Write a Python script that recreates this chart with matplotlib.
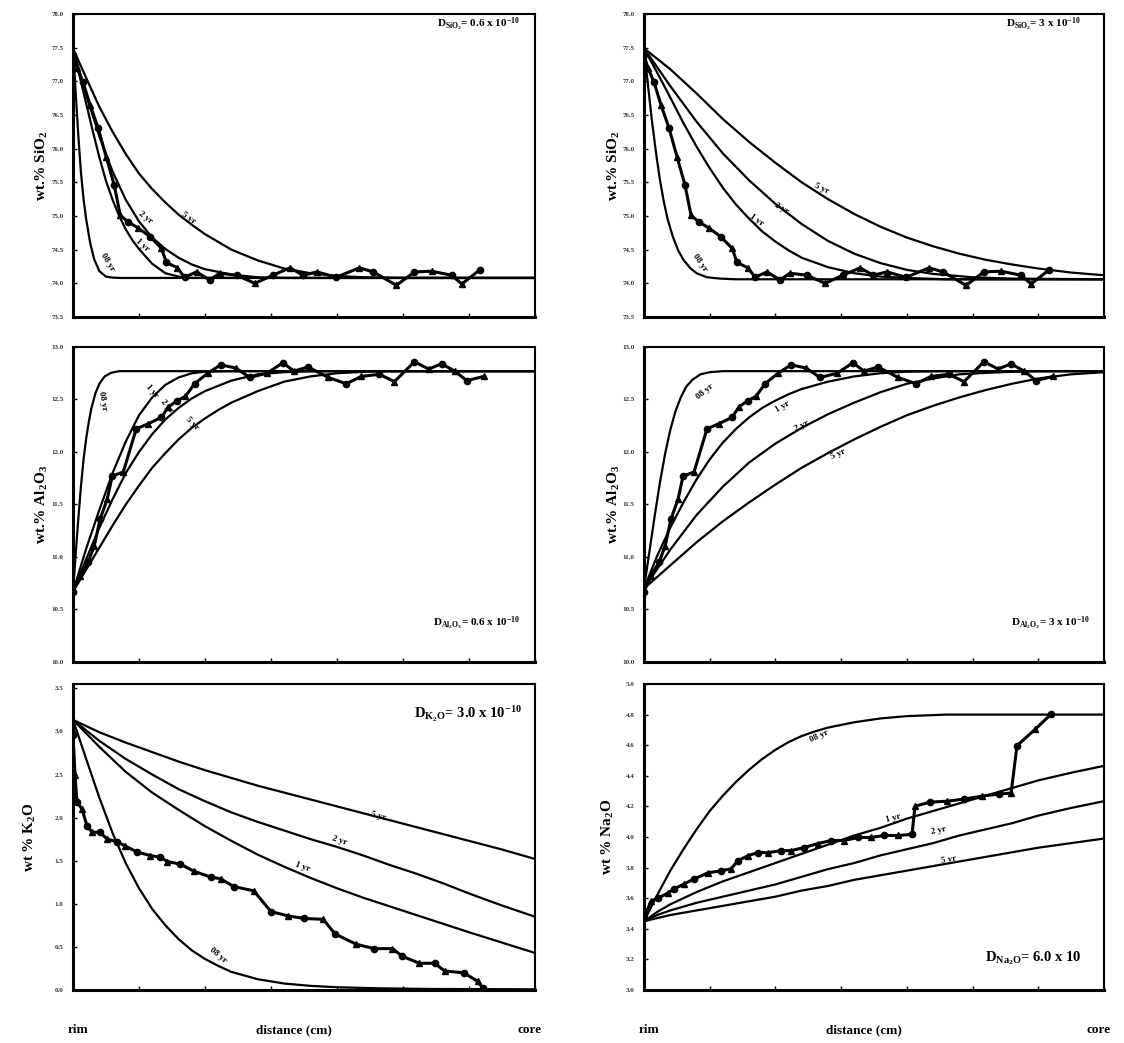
import numpy as np
import matplotlib.pyplot as plt

plt.rcParams["font.family"] = ["Liberation Serif", "DejaVu Serif"]
plt.rcParams["font.weight"] = "bold"
plt.rcParams["mathtext.fontset"] = "custom"
plt.rcParams["mathtext.rm"] = "Liberation Serif:bold"
plt.rcParams["mathtext.it"] = "Liberation Serif:bold"
plt.rcParams["mathtext.bf"] = "Liberation Serif:bold"

years = ["08 yr", "1 yr", "2 yr", "5 yr"]

# ---- SiO2, measured traverse (shared by both top panels)
sio2_x = [0.0, 0.003, 0.0076, 0.0129, 0.019, 0.0251, 0.0312, 0.0358, 0.0419,
          0.0495, 0.0586, 0.067, 0.0708, 0.0791, 0.0845, 0.0936, 0.1035,
          0.1111, 0.124, 0.1377, 0.1514, 0.1644, 0.1743, 0.1849, 0.1994,
          0.2169, 0.2275, 0.245, 0.2587, 0.2717, 0.2869, 0.2945, 0.3082]
sio2_y = [77.39, 77.20, 76.99, 76.65, 76.31, 75.88, 75.46, 75.01, 74.91,
          74.82, 74.69, 74.52, 74.31, 74.23, 74.09, 74.17, 74.05, 74.15,
          74.12, 74.00, 74.12, 74.23, 74.12, 74.17, 74.09, 74.23, 74.17,
          73.97, 74.17, 74.18, 74.12, 73.99, 74.20]

# SiO2 model profiles, D = 0.6  (0.8, 1, 2, 5 yr)
sio2_a_x = [
    [0, 0.002, 0.004, 0.006, 0.008, 0.010, 0.013, 0.016, 0.020, 0.025, 0.030,
     0.036, 0.35],
    [0, 0.005, 0.010, 0.015, 0.020, 0.025, 0.030, 0.035, 0.040, 0.045, 0.050,
     0.060, 0.070, 0.080, 0.090, 0.35],
    [0, 0.01, 0.02, 0.03, 0.04, 0.05, 0.06, 0.07, 0.08, 0.09, 0.10, 0.12,
     0.14, 0.16, 0.35],
    [0, 0.01, 0.02, 0.03, 0.04, 0.05, 0.06, 0.07, 0.08, 0.09, 0.10, 0.12,
     0.14, 0.16, 0.18, 0.20, 0.22, 0.25, 0.35],
]
sio2_a_y = [
    [77.49, 76.85, 76.20, 75.65, 75.25, 74.95, 74.60, 74.36, 74.18, 74.10,
     74.085, 74.08, 74.08],
    [77.49, 77.08, 76.67, 76.26, 75.87, 75.52, 75.24, 75.00, 74.80, 74.64,
     74.51, 74.29, 74.15, 74.10, 74.08, 74.08],
    [77.49, 76.80, 76.18, 75.66, 75.24, 74.92, 74.68, 74.51, 74.38, 74.28,
     74.21, 74.13, 74.09, 74.08, 74.08],
    [77.49, 77.05, 76.62, 76.25, 75.92, 75.63, 75.40, 75.20, 75.02, 74.87,
     74.73, 74.50, 74.34, 74.22, 74.15, 74.11, 74.09, 74.08, 74.08],
]

# SiO2 model profiles, D = 3
sio2_b_x = [
    [0, 0.003, 0.006, 0.009, 0.012, 0.015, 0.018, 0.022, 0.026, 0.030, 0.035,
     0.040, 0.048, 0.058, 0.07, 0.35],
    [0, 0.01, 0.02, 0.03, 0.04, 0.05, 0.06, 0.07, 0.08, 0.09, 0.10, 0.11,
     0.12, 0.14, 0.16, 0.18, 0.20, 0.23, 0.35],
    [0, 0.02, 0.04, 0.06, 0.08, 0.10, 0.12, 0.14, 0.16, 0.18, 0.20, 0.22,
     0.25, 0.28, 0.35],
    [0, 0.02, 0.04, 0.06, 0.08, 0.10, 0.12, 0.14, 0.16, 0.18, 0.20, 0.22,
     0.24, 0.26, 0.28, 0.30, 0.325, 0.35],
]
sio2_b_y = [
    [77.49, 76.95, 76.42, 75.96, 75.55, 75.22, 74.95, 74.69, 74.49, 74.35,
     74.23, 74.15, 74.09, 74.07, 74.06, 74.06],
    [77.49, 77.13, 76.76, 76.38, 76.03, 75.71, 75.42, 75.17, 74.96, 74.77,
     74.62, 74.49, 74.38, 74.24, 74.15, 74.10, 74.08, 74.06, 74.06],
    [77.49, 76.93, 76.40, 75.93, 75.53, 75.18, 74.88, 74.63, 74.44, 74.30,
     74.20, 74.14, 74.09, 74.07, 74.06],
    [77.49, 77.18, 76.82, 76.44, 76.10, 75.79, 75.50, 75.25, 75.03, 74.84,
     74.68, 74.55, 74.44, 74.35, 74.28, 74.22, 74.16, 74.12],
]

# ---- Al2O3, measured traverse
al_x = [0.0, 0.0053, 0.0114, 0.016, 0.0205, 0.0259, 0.0297, 0.0381, 0.0479,
        0.0571, 0.067, 0.0723, 0.0791, 0.0852, 0.0921, 0.102, 0.1119, 0.1233,
        0.1339, 0.1469, 0.159, 0.1674, 0.1781, 0.1933, 0.207, 0.2184, 0.2321,
        0.2435, 0.2587, 0.2694, 0.2793, 0.2892, 0.2983, 0.3112]
al_y = [10.67, 10.82, 10.95, 11.10, 11.36, 11.55, 11.77, 11.81, 12.22, 12.27,
        12.33, 12.43, 12.49, 12.53, 12.65, 12.75, 12.83, 12.80, 12.71, 12.75,
        12.85, 12.77, 12.81, 12.71, 12.65, 12.72, 12.74, 12.67, 12.86, 12.79,
        12.84, 12.77, 12.68, 12.72]

# Al2O3 model profiles, D = 0.6
al_a_x = [
    [0, 0.002, 0.004, 0.006, 0.008, 0.010, 0.012, 0.014, 0.017, 0.020, 0.024,
     0.029, 0.035, 0.35],
    [0, 0.01, 0.02, 0.03, 0.04, 0.05, 0.06, 0.07, 0.08, 0.09, 0.10, 0.12, 0.35],
    [0, 0.01, 0.02, 0.03, 0.04, 0.05, 0.06, 0.07, 0.08, 0.09, 0.10, 0.12,
     0.14, 0.16, 0.18, 0.35],
    [0, 0.01, 0.02, 0.03, 0.04, 0.05, 0.06, 0.07, 0.08, 0.09, 0.10, 0.11,
     0.12, 0.14, 0.16, 0.18, 0.20, 0.23, 0.35],
]
al_a_y = [
    [10.67, 11.02, 11.36, 11.67, 11.93, 12.13, 12.29, 12.42, 12.56, 12.65,
     12.72, 12.755, 12.77, 12.77],
    [10.67, 11.08, 11.45, 11.80, 12.10, 12.35, 12.52, 12.64, 12.71, 12.75,
     12.765, 12.77, 12.77],
    [10.67, 10.98, 11.28, 11.55, 11.80, 12.00, 12.17, 12.31, 12.42, 12.51,
     12.58, 12.68, 12.74, 12.76, 12.77, 12.77],
    [10.67, 10.88, 11.09, 11.30, 11.50, 11.68, 11.85, 11.99, 12.12, 12.23,
     12.32, 12.40, 12.47, 12.58, 12.67, 12.72, 12.75, 12.77, 12.77],
]

# Al2O3 model profiles, D = 3
al_b_x = [
    [0, 0.004, 0.008, 0.012, 0.016, 0.020, 0.024, 0.028, 0.032, 0.037, 0.043,
     0.050, 0.06, 0.35],
    [0, 0.01, 0.02, 0.03, 0.04, 0.05, 0.06, 0.07, 0.08, 0.09, 0.10, 0.11,
     0.12, 0.14, 0.16, 0.18, 0.20, 0.23, 0.35],
    [0, 0.02, 0.04, 0.06, 0.08, 0.10, 0.12, 0.14, 0.16, 0.18, 0.20, 0.22,
     0.24, 0.27, 0.30, 0.35],
    [0, 0.02, 0.04, 0.06, 0.08, 0.10, 0.12, 0.14, 0.16, 0.18, 0.20, 0.22,
     0.24, 0.26, 0.28, 0.30, 0.325, 0.35],
]
al_b_y = [
    [10.70, 11.04, 11.38, 11.70, 11.98, 12.21, 12.39, 12.52, 12.62, 12.69,
     12.74, 12.76, 12.77, 12.77],
    [10.70, 11.01, 11.28, 11.52, 11.74, 11.93, 12.09, 12.22, 12.33, 12.42,
     12.49, 12.55, 12.60, 12.67, 12.72, 12.75, 12.765, 12.77, 12.77],
    [10.70, 11.07, 11.40, 11.67, 11.90, 12.08, 12.23, 12.36, 12.47, 12.57,
     12.65, 12.70, 12.74, 12.76, 12.77, 12.77],
    [10.70, 10.92, 11.14, 11.34, 11.52, 11.69, 11.85, 11.99, 12.12, 12.24,
     12.35, 12.44, 12.52, 12.59, 12.65, 12.70, 12.74, 12.76],
]

# ---- K2O, measured traverse and model profiles (D = 3.0)
k_x = [0.0, 0.0015, 0.003, 0.0068, 0.0107, 0.0145, 0.0205, 0.0259, 0.0335,
       0.0396, 0.0487, 0.0586, 0.0662, 0.0715, 0.0814, 0.0913, 0.1043, 0.1119,
       0.1218, 0.137, 0.1499, 0.1629, 0.175, 0.1895, 0.1986, 0.2146, 0.2283,
       0.242, 0.2496, 0.2625, 0.274, 0.2816, 0.296, 0.3067, 0.3105]
k_y = [2.96, 2.50, 2.18, 2.10, 1.90, 1.83, 1.83, 1.75, 1.72, 1.67, 1.60,
       1.56, 1.54, 1.49, 1.46, 1.38, 1.31, 1.29, 1.20, 1.15, 0.91, 0.86,
       0.83, 0.82, 0.65, 0.53, 0.48, 0.48, 0.39, 0.31, 0.31, 0.22, 0.20,
       0.10, 0.02]

k_model_x = [
    [0, 0.01, 0.02, 0.03, 0.04, 0.05, 0.06, 0.07, 0.08, 0.09, 0.10, 0.11,
     0.12, 0.14, 0.16, 0.18, 0.20, 0.23, 0.27, 0.35],
    [0, 0.02, 0.04, 0.06, 0.08, 0.10, 0.12, 0.14, 0.16, 0.18, 0.20, 0.22,
     0.24, 0.26, 0.28, 0.30, 0.325, 0.35],
    [0, 0.02, 0.04, 0.06, 0.08, 0.10, 0.12, 0.14, 0.16, 0.18, 0.20, 0.22,
     0.24, 0.26, 0.28, 0.30, 0.325, 0.35],
    [0, 0.02, 0.04, 0.06, 0.08, 0.10, 0.12, 0.14, 0.16, 0.18, 0.20, 0.22,
     0.24, 0.26, 0.28, 0.30, 0.325, 0.35],
]
k_model_y = [
    [3.134, 2.68, 2.23, 1.82, 1.47, 1.18, 0.94, 0.75, 0.59, 0.46, 0.36, 0.28,
     0.21, 0.125, 0.075, 0.048, 0.032, 0.02, 0.012, 0.008],
    [3.134, 2.82, 2.53, 2.29, 2.09, 1.90, 1.73, 1.57, 1.43, 1.30, 1.18, 1.07,
     0.97, 0.87, 0.77, 0.67, 0.55, 0.43],
    [3.134, 2.89, 2.68, 2.50, 2.33, 2.19, 2.06, 1.95, 1.85, 1.75, 1.66, 1.56,
     1.45, 1.35, 1.24, 1.12, 0.98, 0.85],
    [3.134, 2.99, 2.87, 2.76, 2.65, 2.55, 2.46, 2.37, 2.29, 2.21, 2.13, 2.05,
     1.97, 1.89, 1.81, 1.73, 1.63, 1.52],
]

# ---- Na2O, measured traverse and model profiles (D = 6.0)
na_x = [0.0, 0.0053, 0.0107, 0.0183, 0.0228, 0.0304, 0.0381, 0.0487, 0.0586,
        0.0662, 0.0715, 0.0791, 0.0868, 0.0944, 0.1043, 0.1119, 0.1218,
        0.1324, 0.1423, 0.1522, 0.1629, 0.1727, 0.1826, 0.1933, 0.2039,
        0.2062, 0.2176, 0.2306, 0.2435, 0.2572, 0.2701, 0.2793, 0.2838,
        0.2975, 0.3097]
na_y = [3.469, 3.581, 3.601, 3.634, 3.660, 3.693, 3.726, 3.766, 3.779, 3.792,
        3.845, 3.878, 3.898, 3.898, 3.911, 3.911, 3.931, 3.957, 3.977, 3.977,
        3.997, 3.997, 4.010, 4.010, 4.017, 4.201, 4.228, 4.234, 4.248, 4.267,
        4.281, 4.287, 4.597, 4.703, 4.802]

na_model_x = [
    [0, 0.01, 0.02, 0.03, 0.04, 0.05, 0.06, 0.07, 0.08, 0.09, 0.10, 0.11,
     0.12, 0.13, 0.14, 0.16, 0.18, 0.20, 0.23, 0.35],
    [0, 0.01, 0.02, 0.04, 0.06, 0.08, 0.10, 0.12, 0.14, 0.16, 0.18, 0.20,
     0.22, 0.24, 0.26, 0.28, 0.30, 0.325, 0.35],
    [0, 0.01, 0.02, 0.04, 0.06, 0.08, 0.10, 0.12, 0.14, 0.16, 0.18, 0.20,
     0.22, 0.24, 0.26, 0.28, 0.30, 0.325, 0.35],
    [0, 0.01, 0.02, 0.04, 0.06, 0.08, 0.10, 0.12, 0.14, 0.16, 0.18, 0.20,
     0.22, 0.24, 0.26, 0.28, 0.30, 0.325, 0.35],
]
na_model_y = [
    [3.449, 3.62, 3.78, 3.92, 4.05, 4.17, 4.27, 4.36, 4.44, 4.51, 4.57, 4.62,
     4.66, 4.69, 4.715, 4.75, 4.775, 4.79, 4.80, 4.80],
    [3.449, 3.51, 3.56, 3.64, 3.71, 3.77, 3.83, 3.89, 3.95, 4.01, 4.06, 4.12,
     4.17, 4.22, 4.27, 4.32, 4.37, 4.42, 4.465],
    [3.449, 3.49, 3.52, 3.57, 3.61, 3.65, 3.69, 3.74, 3.79, 3.83, 3.88, 3.92,
     3.96, 4.01, 4.05, 4.09, 4.14, 4.19, 4.234],
    [3.449, 3.47, 3.49, 3.52, 3.55, 3.58, 3.61, 3.65, 3.68, 3.72, 3.75, 3.78,
     3.81, 3.84, 3.87, 3.90, 3.93, 3.96, 3.99],
]

# tick values on the y axes
sio2_ticks = [73.5, 74.0, 74.5, 75.0, 75.5, 76.0, 76.5, 77.0, 77.5, 78.0]
al_ticks = [10.0, 10.5, 11.0, 11.5, 12.0, 12.5, 13.0]
k_ticks = [0.0, 0.5, 1.0, 1.5, 2.0, 2.5, 3.0, 3.5]
na_ticks = [3.0, 3.2, 3.4, 3.6, 3.8, 4.0, 4.2, 4.4, 4.6, 4.8, 5.0]

W, H = 1124, 1043
fig = plt.figure(figsize=(W / 100, H / 100), dpi=100)


def box(left, top, right, bottom):
    return [left / W, 1 - bottom / H, (right - left) / W, (bottom - top) / H]


def panel(rect, xs, ys, labels, data_x, data_y, ylim, ticks, note, note_xy,
          note_size, ylabel, ylabel_x):
    ax = fig.add_axes(rect)
    for cx, cy in zip(xs, ys):
        ax.plot(cx, cy, color="black", lw=1.6, solid_joinstyle="round")
    ax.plot(data_x, data_y, color="black", lw=2.2)
    ax.plot(data_x[::2], data_y[::2], "o", ms=4.5, color="black")
    ax.plot(data_x[1::2], data_y[1::2], "^", ms=5, color="black")
    for text, (lx, ly, rot) in zip(years, labels):
        ax.text(lx, ly, text, rotation=rot, fontsize=6.5, fontweight="bold",
                ha="center", va="center", rotation_mode="anchor")
    ax.set_xlim(0, 0.35)
    ax.set_ylim(*ylim)
    ax.set_yticks(ticks)
    ax.set_yticklabels(["{:.1f}".format(t) for t in ticks], fontsize=5,
                       color="#333333")
    ax.set_xticks(np.arange(0, 0.351, 0.05))
    ax.set_xticklabels([])
    ax.tick_params(direction="in", length=3, width=1, pad=7)
    for side, spine in ax.spines.items():
        spine.set_linewidth(2.2 if side in ("left", "bottom") else 1.5)
    ax.text(note_xy[0], note_xy[1], note, transform=ax.transAxes,
            ha="right", va="center", fontsize=note_size, fontweight="bold")
    fig.text(ylabel_x / W, rect[1] + rect[3] / 2, ylabel, rotation=90,
             ha="center", va="center", fontsize=11, fontweight="bold")
    return ax


LEFT = (73, 535)
RIGHT = (644, 1104)
ROWS = [(14, 317), (347, 662), (684, 990)]

panel(box(LEFT[0], ROWS[0][0], LEFT[1], ROWS[0][1]), sio2_a_x, sio2_a_y,
      [(0.0266, 74.31, -58), (0.0525, 74.57, -42), (0.0548, 74.97, -38),
       (0.0875, 74.97, -35)],
      sio2_x, sio2_y, (73.5, 78.0), sio2_ticks,
      r"D$_{SiO_2}$= 0.6 x 10$^{-10}$", (0.967, 0.964), 8,
      r"wt.% SiO$_2$", 42)

panel(box(RIGHT[0], ROWS[0][0], RIGHT[1], ROWS[0][1]), sio2_b_x, sio2_b_y,
      [(0.0426, 74.30, -55), (0.086, 74.94, -35), (0.105, 75.12, -30),
       (0.1355, 75.41, -25)],
      sio2_x, sio2_y, (73.5, 78.0), sio2_ticks,
      r"D$_{SiO_2}$= 3 x 10$^{-10}$", (0.95, 0.964), 8,
      r"wt.% SiO$_2$", 614)

panel(box(LEFT[0], ROWS[1][0], LEFT[1], ROWS[1][1]), al_a_x, al_a_y,
      [(0.0228, 12.49, -80), (0.060, 12.58, -50), (0.0715, 12.44, -50),
       (0.0906, 12.27, -45)],
      al_x, al_y, (10.0, 13.0), al_ticks,
      r"D$_{Al_2O_3}$= 0.6 x 10$^{-10}$", (0.967, 0.124), 8,
      r"wt.% Al$_2$O$_3$", 42)

panel(box(RIGHT[0], ROWS[1][0], RIGHT[1], ROWS[1][1]), al_b_x, al_b_y,
      [(0.0464, 12.58, 40), (0.1058, 12.43, 30), (0.120, 12.25, 28),
       (0.1476, 11.98, 25)],
      al_x, al_y, (10.0, 13.0), al_ticks,
      r"D$_{Al_2O_3}$= 3 x 10$^{-10}$", (0.97, 0.124), 8,
      r"wt.% Al$_2$O$_3$", 614)

panel(box(LEFT[0], ROWS[2][0], LEFT[1], ROWS[2][1]), k_model_x, k_model_y,
      [(0.1096, 0.40, -40), (0.174, 1.43, -20), (0.2017, 1.73, -18),
       (0.231, 2.02, -15)],
      k_x, k_y, (0.0, 3.55), k_ticks,
      r"D$_{K_2O}$= 3.0 x 10$^{-10}$", (0.972, 0.9), 10.5,
      r"wt % K$_2$O", 30)

panel(box(RIGHT[0], ROWS[2][0], RIGHT[1], ROWS[2][1]), na_model_x, na_model_y,
      [(0.1332, 4.66, 25), (0.190, 4.12, 15), (0.2245, 4.04, 12),
       (0.232, 3.85, 10)],
      na_x, na_y, (3.0, 5.0), na_ticks,
      r"D$_{Na_2O}$= 6.0 x 10", (0.95, 0.105), 10.5,
      r"wt % Na$_2$O", 608)

# rim / distance / core captions under the bottom row
for l, r in (LEFT, RIGHT):
    y = 1 - 1030 / H
    fig.text((l + 5) / W, y, "rim", ha="center", va="center", fontsize=9.5)
    fig.text(((l + r) / 2 - 10) / W, y, "distance (cm)", ha="center",
             va="center", fontsize=9.5)
    fig.text((r - 5) / W, y, "core", ha="center", va="center", fontsize=9.5)

fig.savefig("out.png", dpi=100, facecolor="white")
